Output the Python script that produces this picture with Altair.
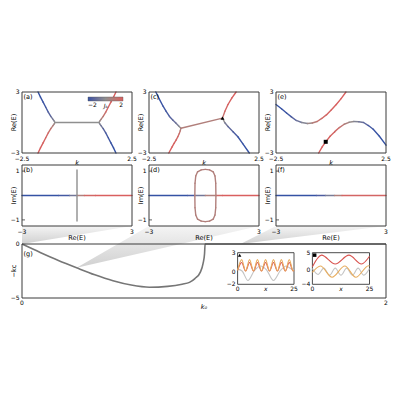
import altair as alt
import pandas as pd

FONT = "DejaVu Sans"

# ---------------- colour map for J along the bands ----------------
J_DOMAIN = [-2, 0, 2]
J_COLORS = ["#3452a4", "#8f8f8f", "#d95f5f"]

# ---------------- panel (a): Re(E) vs k ----------------
A1_K = [-1.77, -1.66, -1.54, -1.42, -1.30, -1.19, -1.09, -1.03, -1.00, -1.03, -1.09, -1.19, -1.30, -1.42, -1.54, -1.66, -1.77]
A1_E = [3.0, 2.5, 2.0, 1.5, 1.0, 0.6, 0.3, 0.12, 0.0, -0.12, -0.3, -0.6, -1.0, -1.5, -2.0, -2.5, -3.0]
A1_J = [-2.0, -2.0, -1.9, -1.8, -1.6, -1.2, -0.6, -0.2, 0.0, 0.2, 0.6, 1.2, 1.6, 1.8, 1.9, 2.0, 2.0]
A2_K = [1.77, 1.66, 1.54, 1.42, 1.30, 1.19, 1.09, 1.03, 1.00, 1.03, 1.09, 1.19, 1.30, 1.42, 1.54, 1.66, 1.77]
A2_E = [3.0, 2.5, 2.0, 1.5, 1.0, 0.6, 0.3, 0.12, 0.0, -0.12, -0.3, -0.6, -1.0, -1.5, -2.0, -2.5, -3.0]
A2_J = [2.0, 2.0, 1.9, 1.8, 1.6, 1.2, 0.6, 0.2, 0.0, -0.2, -0.6, -1.2, -1.6, -1.8, -1.9, -2.0, -2.0]
A3_K = [-1.0, 1.0]
A3_E = [0.0, 0.0]
A3_J = [0.0, 0.0]

# ---------------- panel (c) ----------------
C1_K = [-2.19, -2.03, -1.86, -1.72, -1.57, -1.42, -1.27, -1.15, -1.05, -1.08, -1.12, -1.19, -1.27, -1.36, -1.45, -1.60]
C1_E = [3.0, 2.3, 1.6, 1.1, 0.6, 0.25, -0.07, -0.35, -0.57, -0.82, -1.07, -1.4, -1.73, -2.05, -2.4, -3.0]
C1_J = [-2.0, -2.0, -1.9, -1.8, -1.6, -1.3, -0.9, -0.4, 0.3, 1.0, 1.4, 1.7, 1.8, 1.9, 2.0, 2.0]
C2_K = [-1.05, 0.84]
C2_E = [-0.57, 0.43]
C2_J = [0.8, 0.8]
C3_K = [0.84, 0.95, 1.09, 1.27, 1.46]
C3_E = [0.43, 1.1, 1.77, 2.43, 3.0]
C3_J = [1.2, 1.7, 1.9, 2.0, 2.0]
C4_K = [0.84, 0.95, 1.09, 1.32, 1.54, 1.76, 2.06]
C4_E = [0.43, -0.03, -0.4, -0.9, -1.4, -2.07, -3.0]
C4_J = [0.4, -0.3, -1.0, -1.5, -1.8, -2.0, -2.0]
C_MARK = (0.84, 0.43)

# ---------------- panel (e) ----------------
E1_K = [-2.5, -2.25, -2.02, -1.8, -1.58, -1.33, -1.07, -0.85, -0.63, -0.42, -0.2, 0.02, 0.24, 0.46, 0.68]
E1_E = [1.77, 1.35, 0.93, 0.55, 0.2, 0.0, -0.1, -0.05, 0.1, 0.4, 0.77, 1.25, 1.77, 2.35, 3.0]
E1_J = [-2.0, -2.0, -1.9, -1.7, -1.2, -0.6, 0.0, 0.6, 1.2, 1.6, 1.8, 1.9, 2.0, 2.0, 2.0]
E2_K = [-0.56, -0.4, -0.24, -0.04, 0.17, 0.38, 0.6, 0.82, 1.04, 1.26, 1.48, 1.7, 1.92, 2.2, 2.5]
E2_E = [-3.0, -2.4, -1.9, -1.35, -0.9, -0.5, -0.17, 0.02, 0.1, 0.08, 0.0, -0.3, -0.67, -1.35, -2.23]
E2_J = [2.0, 2.0, 2.0, 1.9, 1.8, 1.5, 1.0, 0.4, -0.1, -0.6, -1.1, -1.6, -1.9, -2.0, -2.0]
E_MARK = (-0.24, -1.9)

# ---------------- panels (b), (d), (f): Im(E) vs Re(E) ----------------
B1_RE = [-3.0, -1.0, -0.4, 0.0, 0.4, 1.0, 3.0]
B1_IM = [0.0, 0.0, 0.0, 0.0, 0.0, 0.0, 0.0]
B1_J = [-2.0, -2.0, -1.5, 0.0, 1.5, 2.0, 2.0]
B2_RE = [0.0, 0.0]
B2_IM = [-1.05, 1.05]
B2_J = [0.0, 0.0]

D1_RE = [-3.0, -0.9, -0.5, 0.07, 0.65, 1.0, 3.0]
D1_IM = [0.0, 0.0, 0.0, 0.0, 0.0, 0.0, 0.0]
D1_J = [-2.0, -2.0, -1.5, 0.0, 1.5, 2.0, 2.0]
D2_RE = [0.65, 0.64, 0.6, 0.5, 0.3, 0.07, -0.15, -0.35, -0.45, -0.49, -0.5,
         -0.49, -0.45, -0.35, -0.15, 0.07, 0.3, 0.5, 0.6, 0.64, 0.65]
D2_IM = [0.0, 0.5, 0.8, 0.97, 1.05, 1.07, 1.05, 0.97, 0.8, 0.5, 0.0,
         -0.5, -0.8, -0.97, -1.05, -1.07, -1.05, -0.97, -0.8, -0.5, 0.0]
D2_J = [0.8] * 21

F1_RE = [-3.0, -0.8, -0.3, 0.2, 0.6, 3.0]
F1_IM = [0.0, 0.0, 0.0, 0.0, 0.0, 0.0]
F1_J = [-2.0, -2.0, -1.2, 0.0, 1.6, 2.0]

# ---------------- panel (g): -k_c vs k0 ----------------
G_K0 = [0.0, 0.1, 0.2, 0.3, 0.4, 0.5, 0.6, 0.7, 0.8, 0.88, 0.92, 0.95, 0.98, 0.995, 1.003, 1.006, 1.5, 2.0]
G_KC = [0.0, -0.78, -1.52, -2.2, -2.85, -3.4, -3.8, -4.0, -3.92, -3.72, -3.55, -3.2, -2.6, -1.8, -0.9, 0.0, 0.0, 0.0]
SEL_K0 = [0.0, 0.3, 1.2]      # k0 of the three cases (b), (d), (f)
SEL_KC = [0.0, -2.2, 0.0]

# inset 1 (triangle)
I1_X = [0, 1.8, 3.55, 5.3, 7.05, 8.8, 10.6, 12.4, 14.15, 15.9, 17.65, 19.4, 21.15, 22.9, 24.65, 25]
I1_ORANGE = [0.2, 1.9, 0.1, 1.9, 0.1, 1.9, 0.1, 1.9, 0.1, 1.9, 0.1, 1.9, 0.1, 1.9, 0.1, 0.2]
I1_RED = [0.2, 1.45, 0.1, 1.45, 0.1, 1.45, 0.1, 1.45, 0.1, 1.45, 0.1, 1.45, 0.1, 1.45, 0.1, 0.2]
I1_GX = [0, 2, 4.6, 7.5, 10.2, 12.8, 15.9, 19, 21.5, 23.5, 25]
I1_GREY = [0.4, 0.1, -1.4, 0.2, 0.9, 0.3, -1.4, 0.2, 0.9, 0.5, 0.2]
I1_YTICKS = [3, 0, -2]
I1_XTICKS = [0, 25]

# inset 2 (square)
I2_RX = [0, 4.0, 10.0, 16.0, 21.5, 25]
I2_RED = [1.0, 4.3, 1.8, 4.3, 1.8, 4.0]
I2_OX = [0, 3.5, 8.6, 14.2, 19.0, 24.6, 25]
I2_ORANGE = [-0.6, 1.2, -2.0, 1.2, -2.0, 1.3, 1.2]
I2_GX = [0, 2.5, 5, 7.5, 10, 12.5, 15, 17.5, 20, 22.5, 25]
I2_GREY = [0.5, -1.2, 0.6, -1.4, 0.6, -1.4, 0.6, -1.4, 0.6, -1.4, 0.5]
I2_YTICKS = [5, 0, -4]
I2_XTICKS = [0, 25]

# ---------------- layout (pixels in the figure) ----------------
FW, FH = 384, 312
COLS = [(14, 124), (141, 251), (268, 378)]
ROW1 = (84, 145)
ROW2 = (157, 218)
ROW3 = (236, 290)
INS1 = (229.6, 286.0, 244.7, 276.3)
INS2 = (304.4, 361.5, 244.7, 276.3)
FRAME = "#3a3a3a"
FS = 6


def fmt(v, f="%g"):
    return (f % v).replace("-", "\u2212")


def segments(curves):
    rows = []
    for xs, ys, js in curves:
        for i in range(len(xs) - 1):
            rows.append({"x": xs[i], "y": ys[i], "x2": xs[i + 1], "y2": ys[i + 1],
                         "J": (js[i] + js[i + 1]) / 2})
    return pd.DataFrame(rows)


def make_scales(xdom, ydom, box):
    x0, x1, y0, y1 = box
    xs = alt.Scale(domain=xdom, range=[x0, x1], nice=False, zero=False)
    ys = alt.Scale(domain=ydom, range=[y1, y0], nice=False, zero=False)
    return xs, ys


def frame_and_labels(xs, ys, xdom, ydom, box, xticks, xtl, yticks, ytl,
                     xtitle, ytitle, label, fs=FS, xt_dy=3, title_dy=9.5,
                     ytl_dx=-2.5, ytitle_dx=8.5, label_dy=1.5, xitalic=False,
                     inner_yticks=None):
    x0, x1, y0, y1 = box
    X = lambda f: alt.X(f, scale=xs, axis=None)
    Y = lambda f: alt.Y(f, scale=ys, axis=None)
    layers = []
    if inner_yticks:
        tick_len = 3.0 * (xdom[1] - xdom[0]) / (x1 - x0)
        layers.append(
            alt.Chart(pd.DataFrame({"a": [xdom[0]] * len(inner_yticks),
                                    "b": [xdom[0] + tick_len] * len(inner_yticks),
                                    "y": inner_yticks}))
            .mark_rule(color=FRAME, strokeWidth=0.8)
            .encode(x=X("a:Q"), x2="b:Q", y=Y("y:Q"))
        )
    layers.append(
        alt.Chart(pd.DataFrame({"a": [xdom[0]], "b": [xdom[1]], "c": [ydom[0]], "d": [ydom[1]]}))
        .mark_rect(fill="white", fillOpacity=0, stroke=FRAME, strokeWidth=1.0)
        .encode(x=X("a:Q"), x2="b:Q", y=Y("c:Q"), y2="d:Q")
    )
    layers.append(
        alt.Chart(pd.DataFrame({"x": xticks, "y": [ydom[0]] * len(xticks), "t": xtl}))
        .mark_text(align="center", baseline="top", dy=xt_dy, fontSize=fs, font=FONT, color="black")
        .encode(x=X("x:Q"), y=Y("y:Q"), text="t:N")
    )
    layers.append(
        alt.Chart(pd.DataFrame({"x": [xdom[0]] * len(yticks), "y": yticks, "t": ytl}))
        .mark_text(align="right", baseline="middle", dx=ytl_dx, fontSize=fs, font=FONT, color="black")
        .encode(x=X("x:Q"), y=Y("y:Q"), text="t:N")
    )
    if xtitle:
        layers.append(
            alt.Chart(pd.DataFrame({"t": [xtitle]}))
            .mark_text(align="center", baseline="middle", fontSize=fs + 0.5, font=FONT,
                       color="black", fontStyle="italic" if xitalic else "normal")
            .encode(x=alt.value((x0 + x1) / 2), y=alt.value(y1 + title_dy), text="t:N")
        )
    if ytitle:
        layers.append(
            alt.Chart(pd.DataFrame({"t": [ytitle]}))
            .mark_text(align="center", baseline="middle", angle=270, fontSize=fs + 0.5,
                       font=FONT, color="black")
            .encode(x=alt.value(x0 - ytitle_dx), y=alt.value((y0 + y1) / 2), text="t:N")
        )
    if label:
        layers.append(
            alt.Chart(pd.DataFrame({"t": [label], "x": [xdom[0]], "y": [ydom[1]]}))
            .mark_text(align="left", baseline="top", dx=1.5, dy=label_dy, fontSize=fs + 0.5,
                       font=FONT, color="black")
            .encode(x=X("x:Q"), y=Y("y:Q"), text="t:N")
        )
    return layers


LEGEND = alt.Legend(
    title=None, orient="none", legendX=80, legendY=89, direction="horizontal",
    values=[-2, 2], format="d", gradientLength=35, gradientThickness=4,
    gradientStrokeColor="#555555", gradientStrokeWidth=0.4,
    labelFontSize=FS, labelOffset=1, padding=0,
    labelFont=FONT, labelColor="black",
)


def band_panel(curves, xdom, ydom, box, xticks, xtl, yticks, ytl, xtitle, ytitle,
               label, marker=None, xitalic=False, title_dy=9.5, inner_yticks=None):
    xs, ys = make_scales(xdom, ydom, box)
    df = segments(curves)
    lines = alt.Chart(df).mark_rule(strokeWidth=1.4, strokeCap="round").encode(
        x=alt.X("x:Q", scale=xs, axis=None),
        y=alt.Y("y:Q", scale=ys, axis=None),
        x2="x2:Q", y2="y2:Q",
        color=alt.Color("J:Q", scale=alt.Scale(domain=J_DOMAIN, range=J_COLORS), legend=LEGEND),
    )
    layers = [lines]
    if marker is not None:
        shape, (mx, my) = marker
        layers.append(
            alt.Chart(pd.DataFrame({"x": [mx], "y": [my]}))
            .mark_point(shape=shape, filled=True, color="black", size=16, opacity=1)
            .encode(x=alt.X("x:Q", scale=xs, axis=None), y=alt.Y("y:Q", scale=ys, axis=None))
        )
    layers += frame_and_labels(xs, ys, xdom, ydom, box, xticks, xtl, yticks, ytl,
                               xtitle, ytitle, label, xitalic=xitalic, title_dy=title_dy,
                               inner_yticks=inner_yticks)
    return alt.layer(*layers)


K_TICKS = [-2.5, 2.5]
K_TL = [fmt(v) for v in K_TICKS]
E_TICKS = [-3, 3]
E_TL = [fmt(v) for v in E_TICKS]
I_TICKS = [-1, 1]
I_TL = [fmt(v) for v in I_TICKS]


def box(col, row):
    return (COLS[col][0], COLS[col][1], row[0], row[1])


pa = band_panel([(A1_K, A1_E, A1_J), (A2_K, A2_E, A2_J), (A3_K, A3_E, A3_J)],
                [-2.5, 2.5], [-3, 3], box(0, ROW1), K_TICKS, K_TL, E_TICKS, E_TL,
                "k", "Re(E)", "(a)", xitalic=True)
pc = band_panel([(C1_K, C1_E, C1_J), (C2_K, C2_E, C2_J), (C3_K, C3_E, C3_J), (C4_K, C4_E, C4_J)],
                [-2.5, 2.5], [-3, 3], box(1, ROW1), K_TICKS, K_TL, E_TICKS, E_TL,
                "k", "Re(E)", "(c)", marker=("triangle-up", C_MARK), xitalic=True)
pe = band_panel([(E1_K, E1_E, E1_J), (E2_K, E2_E, E2_J)],
                [-2.5, 2.5], [-3, 3], box(2, ROW1), K_TICKS, K_TL, E_TICKS, E_TL,
                "k", "Re(E)", "(e)", marker=("square", E_MARK), xitalic=True)
pb = band_panel([(B1_RE, B1_IM, B1_J), (B2_RE, B2_IM, B2_J)],
                [-3, 3], [-1.25, 1.25], box(0, ROW2), E_TICKS, E_TL, I_TICKS, I_TL,
                "Re(E)", "Im(E)", "(b)", title_dy=11.5, inner_yticks=I_TICKS)
pdd = band_panel([(D1_RE, D1_IM, D1_J), (D2_RE, D2_IM, D2_J)],
                 [-3, 3], [-1.25, 1.25], box(1, ROW2), E_TICKS, E_TL, I_TICKS, I_TL,
                 "Re(E)", "Im(E)", "(d)", title_dy=11.5, inner_yticks=I_TICKS)
pf = band_panel([(F1_RE, F1_IM, F1_J)],
                [-3, 3], [-1.25, 1.25], box(2, ROW2), E_TICKS, E_TL, I_TICKS, I_TL,
                "Re(E)", "Im(E)", "(f)", title_dy=11.5, inner_yticks=I_TICKS)

# colour-bar label
jlab = alt.Chart(pd.DataFrame({"t": ["J\u2096"]})).mark_text(
    align="center", baseline="middle", fontSize=FS, font=FONT, fontStyle="italic", color="black"
).encode(x=alt.value(98), y=alt.value(97.5), text="t:N")

# ---------------- panel (g) ----------------
GBOX = (COLS[0][0], COLS[2][1], ROW3[0], ROW3[1])
gxs, gys = make_scales([0, 2], [-5, 0], GBOX)
GX = lambda f: alt.X(f, scale=gxs, axis=None)
GY = lambda f: alt.Y(f, scale=gys, axis=None)

# connector wedges from the bottom of (b), (d), (f) to their k0 on the curve
gw = GBOX[1] - GBOX[0]
ytop = (ROW3[0] - ROW2[1]) * 5.0 / (ROW3[1] - ROW3[0])
wrows = []
for i, (ax_, ay_) in enumerate(zip(SEL_K0, SEL_KC)):
    lx = 2.0 * (COLS[i][0] - GBOX[0]) / gw
    rx = 2.0 * (COLS[i][1] - GBOX[0]) / gw
    if lx <= ax_ + 1e-9:
        wrows += [{"w": i, "k0": lx, "kc": ytop, "kc2": ay_},
                  {"w": i, "k0": rx, "kc": ytop, "kc2": ytop}]
    else:
        mid = ay_ + (lx - ax_) / (rx - ax_) * (ytop - ay_)
        wrows += [{"w": i, "k0": ax_, "kc": ay_, "kc2": ay_},
                  {"w": i, "k0": lx, "kc": ytop, "kc2": mid},
                  {"w": i, "k0": rx, "kc": ytop, "kc2": ytop}]
wdf = pd.DataFrame(wrows)

wedges = alt.Chart(wdf).mark_area(
    color=alt.Gradient(gradient="linear",
                       stops=[alt.GradientStop(color="#f3f3f3", offset=0),
                              alt.GradientStop(color="#cbcbcb", offset=1)],
                       x1=0, x2=0, y1=0, y2=1),
    opacity=0.9,
).encode(x=GX("k0:Q"), y=GY("kc:Q"), y2="kc2:Q", detail="w:N")

gcurve = alt.Chart(pd.DataFrame({"k0": G_K0, "kc": G_KC})).mark_line(
    color="#767676", strokeWidth=1.6, interpolate="monotone"
).encode(x=GX("k0:Q"), y=GY("kc:Q"))

g_layers = [gcurve] + frame_and_labels(
    gxs, gys, [0, 2], [-5, 0], GBOX, [0, 2], ["0", "2"], [-5, 0], [fmt(-5), "0"],
    "k\u2080", "\u2212k\u1d04", "(g)", xitalic=True, title_dy=9, label_dy=7, xt_dy=1.5)
g_main = alt.layer(*g_layers)


def inset(series, xdom, ydom, bx, yticks, xticks, shape, mpos):
    xs, ys = make_scales(xdom, ydom, bx)
    X = lambda f: alt.X(f, scale=xs, axis=None)
    Y = lambda f: alt.Y(f, scale=ys, axis=None)
    layers = [
        alt.Chart(pd.DataFrame({"a": [xdom[0]], "b": [xdom[1]], "c": [ydom[0]], "d": [ydom[1]]}))
        .mark_rect(fill="white", stroke=FRAME, strokeWidth=0.9)
        .encode(x=X("a:Q"), x2="b:Q", y=Y("c:Q"), y2="d:Q")
    ]
    for xsr, ysr, col in series:
        layers.append(
            alt.Chart(pd.DataFrame({"x": xsr, "y": ysr}))
            .mark_line(color=col, strokeWidth=1.1, interpolate="monotone")
            .encode(x=X("x:Q"), y=Y("y:Q"))
        )
    layers.append(
        alt.Chart(pd.DataFrame({"x": [xdom[0]] * len(yticks), "y": yticks,
                                "t": [fmt(v) for v in yticks]}))
        .mark_text(align="right", baseline="middle", dx=-2, fontSize=FS, font=FONT, color="black")
        .encode(x=X("x:Q"), y=Y("y:Q"), text="t:N")
    )
    layers.append(
        alt.Chart(pd.DataFrame({"x": xticks, "y": [ydom[0]] * len(xticks),
                                "t": [fmt(v) for v in xticks]}))
        .mark_text(align="center", baseline="top", dy=2, fontSize=FS, font=FONT, color="black")
        .encode(x=X("x:Q"), y=Y("y:Q"), text="t:N")
    )
    layers.append(
        alt.Chart(pd.DataFrame({"x": [(xdom[0] + xdom[1]) / 2], "y": [ydom[0]], "t": ["x"]}))
        .mark_text(align="center", baseline="top", dy=2, fontSize=FS, font=FONT,
                   fontStyle="italic", color="black")
        .encode(x=X("x:Q"), y=Y("y:Q"), text="t:N")
    )
    layers.append(
        alt.Chart(pd.DataFrame({"x": [mpos[0]], "y": [mpos[1]]}))
        .mark_point(shape=shape, filled=True, color="black", size=12, opacity=1)
        .encode(x=X("x:Q"), y=Y("y:Q"))
    )
    return alt.layer(*layers)


ins1 = inset([(I1_GX, I1_GREY, "#c4c4c4"), (I1_X, I1_RED, "#d9534f"), (I1_X, I1_ORANGE, "#e8ad5e")],
             [0, 25], [-2, 3], INS1, I1_YTICKS, I1_XTICKS, "triangle-up", (0.9, 2.6))
ins2 = inset([(I2_GX, I2_GREY, "#c4c4c4"), (I2_RX, I2_RED, "#d9534f"), (I2_OX, I2_ORANGE, "#e8ad5e")],
             [0, 25], [-4, 5], INS2, I2_YTICKS, I2_XTICKS, "square", (1.0, 4.3))

wedge_layer = alt.layer(wedges)

chart = (
    alt.layer(wedge_layer, pa, pc, pe, pb, pdd, pf, jlab, g_main, ins1, ins2)
    .resolve_scale(x="independent", y="independent")
    .properties(width=FW, height=FH, padding=0,
                autosize=alt.AutoSizeParams(type="none"))
    .configure(font=FONT)
    .configure_view(stroke=None)
)

chart.save("out.html", embed_options={"renderer": "svg", "actions": False})
